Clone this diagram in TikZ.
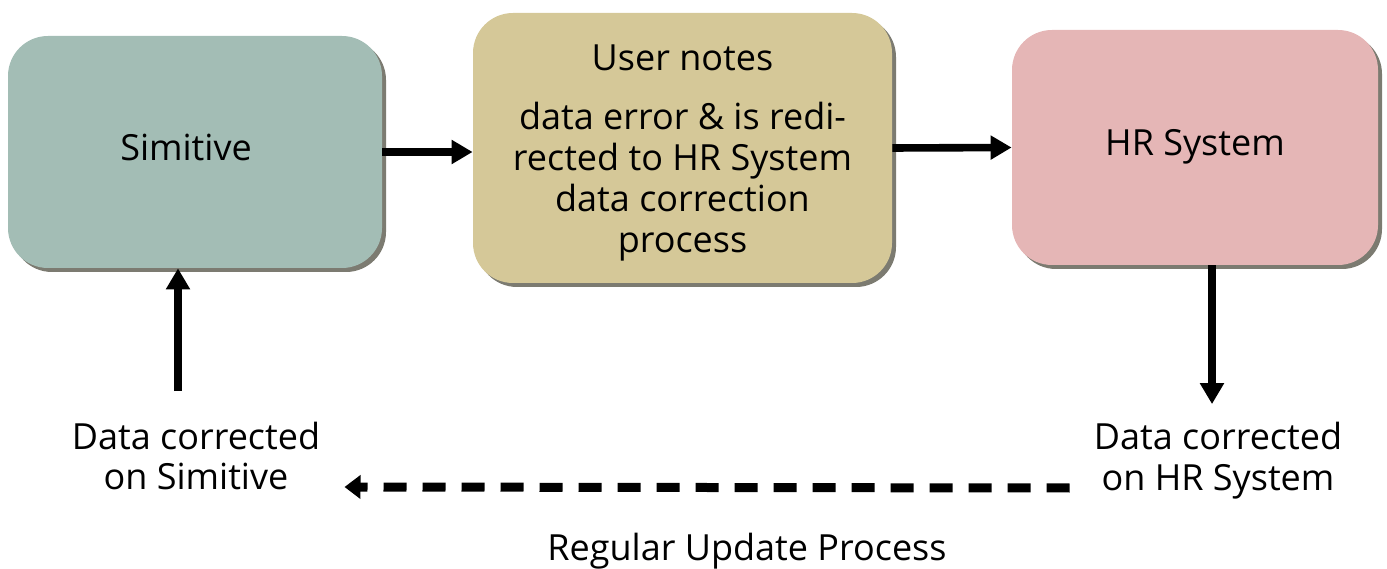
\documentclass[tikz,border=0pt]{standalone}
\usepackage{fontspec}
\setmainfont{Open Sans}
\usetikzlibrary{arrows.meta,shadows}

\definecolor{simfill}{HTML}{A3BDB5}
\definecolor{notefill}{HTML}{D5C898}
\definecolor{hrfill}{HTML}{E5B6B6}
\definecolor{boxshade}{HTML}{7C7B71}

\begin{document}
\begin{tikzpicture}
[
    x=0.5pt, y=0.5pt,
    every node/.style={font=\fontsize{18}{20.5}\selectfont},
    stage/.style={rounded corners=20pt, align=center, inner sep=0pt,
        drop shadow={shadow xshift=2pt, shadow yshift=-2pt, fill=boxshade, opacity=1}},
    label/.style={align=center, inner sep=3pt},
    flow/.style={line width=3.8pt, -{Triangle[length=10.5pt,width=11.5pt]}},
    update/.style={line width=4.5pt, dash pattern=on 11.5pt off 8pt,
        -{Triangle[length=8pt,width=11.5pt]}}
]
    \useasboundingbox (0,0) rectangle (1387,568);

    \node [stage, fill=simfill, minimum width=187pt, minimum height=116pt]
        (sim) at (195,416) {\strut Simitive\hspace{9pt}};
    \node [stage, fill=notefill, minimum width=209.5pt, minimum height=135pt]
        (user) at (682.5,420) {\rule{0pt}{18pt}User notes\\[9pt]data error \& is redi-\\rected to HR System\\data correction\\process};
    \node [stage, fill=hrfill, minimum width=183pt, minimum height=117.5pt]
        (hr) at (1195,420.5) {\strut HR System};

    \node [label] (simlbl) at (196,112) {Data corrected\\on Simitive};
    \node [label] (hrlbl) at (1218,107) {Data corrected\\on HR System};
    \node [label] (regular) at (747,17) {Regular Update Process};

    \draw [flow] (sim.east) -- (sim.east -| user.west);
    \draw [flow] (user.east) -- (hr.west);
    \draw [flow] ([xshift=8.5pt]hr.south) -- ([xshift=-3pt,yshift=6pt]hrlbl.north);
    \draw [flow] ([xshift=-9pt,yshift=12pt]simlbl.north) -- ([xshift=-8.5pt]sim.south);
    \draw [update] ([xshift=-9pt,yshift=-13.5pt]hrlbl.west) -- ([xshift=9pt,yshift=-15.5pt]simlbl.east);
\end{tikzpicture}
\end{document}
